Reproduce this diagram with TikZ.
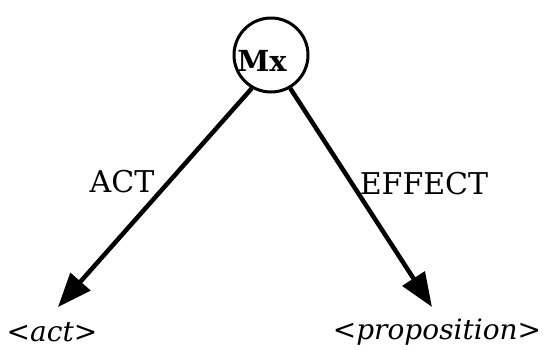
\documentclass[tikz,border=0pt]{standalone}
\usepackage{fontspec}
\setmainfont{DejaVu Serif}
\usetikzlibrary{arrows.meta}
\begin{document}
\begin{tikzpicture}[x=1pt,y=-1pt,
  lbl/.style={inner sep=0pt, font=\fontsize{30}{34}\selectfont},
  term/.style={inner sep=0pt, font=\fontsize{28}{34}\selectfont\itshape},
  arc/.style={line width=4.5pt, -{Triangle[length=34pt,width=26pt]}},
  ring/.style={circle, draw, line width=3pt, minimum size=74pt, inner sep=0pt}]
\useasboundingbox (0,0) rectangle (544,349);
\node[ring] (mx) at (271,55) {};
\node[lbl, font=\fontsize{29}{34}\selectfont\bfseries] (mxt) at (262,61) {Mx};
\coordinate (tipA) at (58,307);
\coordinate (tipE) at (432,307);
\draw[arc] (mx.240) -- (tipA);
\draw[arc] (mx.300) -- (tipE);
\node[lbl] (actl) at (122,182) {ACT};
\node[lbl] (effl) at (424,184) {EFFECT};
\node[term] (act) at (52,332) {<act>};
\node[term] (prop) at (437,332) {<proposition>};
\end{tikzpicture}
\end{document}
